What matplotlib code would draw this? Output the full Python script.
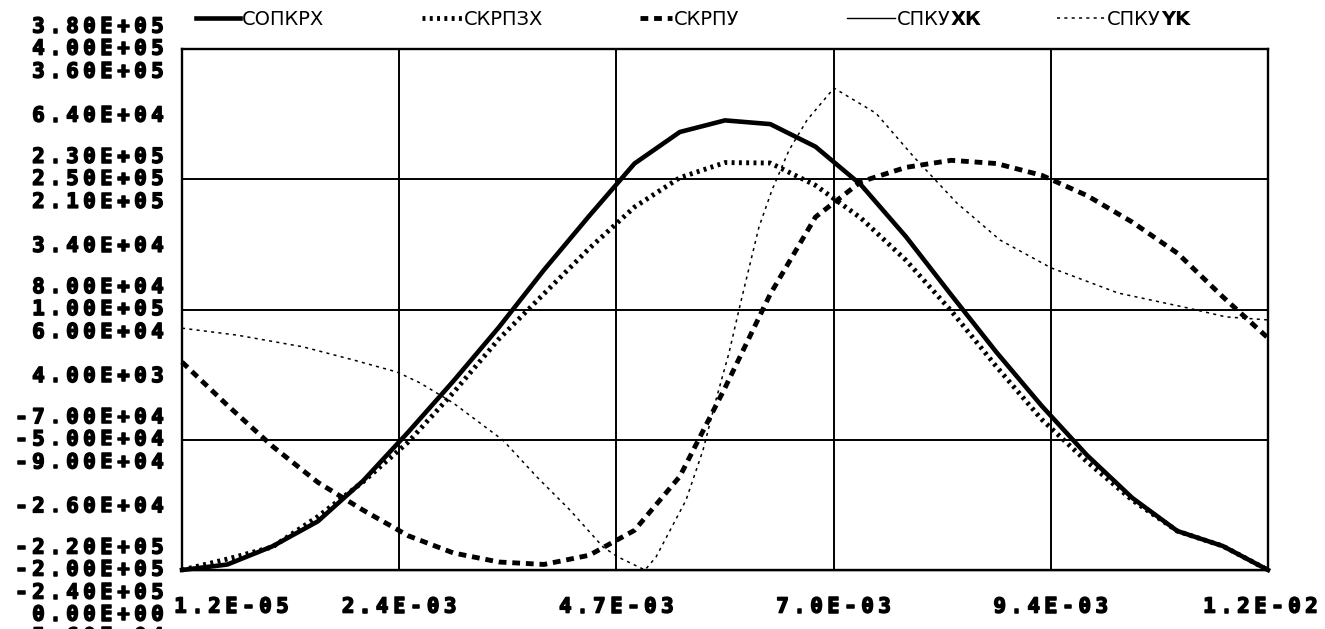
import matplotlib
matplotlib.use("Agg")
import matplotlib.pyplot as plt
import matplotlib.patheffects as pe
from matplotlib.lines import Line2D

# ---- data -------------------------------------------------------------
x_common = [0.000012, 0.0005, 0.000987, 0.001475, 0.001962, 0.00245, 0.002937,
            0.003425, 0.003912, 0.0044, 0.004887, 0.005375, 0.005862, 0.00635,
            0.006837, 0.007325, 0.007812, 0.0083, 0.008787, 0.009275, 0.009762,
            0.01025, 0.010737, 0.011225, 0.011712]

sopkrx = [-220000, -213700, -192700, -164000, -117400, -61100, -2300, 59400,
          125600, 187900, 248100, 284400, 297800, 293500, 267500, 223800, 163800,
          96700, 30700, -31100, -87800, -137000, -175200, -192400, -220000]

skrpzx = [-200000, -187400, -173500, -138500, -98500, -52600, 4500, 65900,
          118200, 170400, 218000, 251800, 269200, 268700, 243000, 205400, 156700,
          98300, 34100, -26700, -75300, -119500, -155200, -172400, -200000]

skrpu = [-500, -50200, -97500, -139000, -171000, -200600, -220400, -230800,
         -233600, -223000, -194300, -132300, -30200, 77800, 166500, 207100,
         223700, 231800, 228100, 214500, 191200, 160600, 124800, 74600, 27200]

spkuxk = [0, 0, 0, 0, 0, 0, 0, 0, 0, 0, 0, 0, 0, 0, 0, 0, 0, 0, 0, 0, 0, 0, 0, 0, 0]

x_spkuyk = [0.000012, 0.000605, 0.001316, 0.001854, 0.002328, 0.002576, 0.002932,
            0.00347, 0.003837, 0.004192, 0.004548, 0.004709, 0.005, 0.005119,
            0.005442, 0.005625, 0.005765, 0.005905, 0.006024, 0.006228, 0.006368,
            0.006552, 0.006745, 0.007036, 0.007489, 0.007898, 0.008361, 0.008825,
            0.009374, 0.010096, 0.010796, 0.011259, 0.011712]
spkuyk = [-300, -1900, -4600, -7600, -10400, -12900, -17500, -26100, -34600,
          -42200, -50700, -53000, -56000, -53000, -39900, -28400, -16800, -6000,
          5000, 23000, 31500, 40700, 47600, 55000, 49200, 39100, 28500, 20000,
          13600, 7800, 4600, 2300, 1600]

x_ticks = [0.000012, 0.002352, 0.004692, 0.007032, 0.009372, 0.011712]

# axis tick values of every curve (top to bottom)
sopkrx_ticks = [380000, 230000, 80000, -70000, -220000]
skrpzx_ticks = [400000, 250000, 100000, -50000, -200000]
skrpu_ticks = [360000, 210000, 60000, -90000, -240000]
spkuxk_ticks = [0]
spkuyk_ticks = [64000, 34000, 4000, -26000, -56000]

names = ["СОПКРХ", "СКРПЗХ", "СКРПУ", "СПКУ", "СПКУ"]
name_tails = ["", "", "", "ХК", "YK"]

# ---- figure -----------------------------------------------------------
W, H = 1325, 629
fig = plt.figure(figsize=(W / 100, H / 100), dpi=100)
fig.patch.set_facecolor("white")

ax = fig.add_axes([182 / W, 59 / H, 1086 / W, 521 / H])
ax.set_xlim(x_ticks[0], x_ticks[-1])
ax.set_ylim(sopkrx_ticks[-1], sopkrx_ticks[0])
ax.set_xticks(x_ticks)
ax.set_yticks(sopkrx_ticks)
ax.tick_params(length=0, labelbottom=False, labelleft=False)
ax.grid(True, color="black", lw=1.4)
for sp in ax.spines.values():
    sp.set_linewidth(1.7)

styles = [
    dict(color="black", lw=3.3, ls="-"),
    dict(color="black", lw=3.5, ls=(0, (0.6, 0.9)), dash_capstyle="butt"),
    dict(color="black", lw=3.5, ls=(0, (1.6, 1.2)), dash_capstyle="butt"),
    dict(color="black", lw=1.0, ls="-"),
    dict(color="black", lw=1.1, ls=(0, (2, 2.8)), dash_capstyle="butt"),
]

def twin(lo, hi):
    a = ax.twinx()
    a.set_ylim(lo, hi)
    a.axis("off")
    return a

ax1 = ax
ax2 = twin(skrpzx_ticks[-1], skrpzx_ticks[0])
ax3 = twin(skrpu_ticks[-1], skrpu_ticks[0])
ax4 = twin(0, 1)
ax5 = twin(spkuyk_ticks[-1], spkuyk_ticks[0])

ax1.plot(x_common, sopkrx, clip_on=False, **styles[0])
ax2.plot(x_common, skrpzx, clip_on=False, **styles[1])
ax3.plot(x_common, skrpu, clip_on=False, **styles[2])
ax4.plot(x_common, spkuxk, clip_on=False, **styles[3])
ax5.plot(x_spkuyk, spkuyk, clip_on=False, **styles[4])

# ---- old-style monospaced labels, one glyph per cell --------------------
FS = 15
PITCH = 17
CAP = 0.73 * FS * 100 / 72
thick = [pe.withStroke(linewidth=1.1, foreground="black")]

def mono(x_left, y_center, s):
    for i, ch in enumerate(s):
        fig.text((x_left + (i + 0.5) * PITCH) / W, (y_center - CAP / 2) / H, ch,
                 ha="center", va="baseline", family="DejaVu Sans Mono",
                 weight="bold", fontsize=FS, path_effects=thick)

# stacked y labels: each curve has its own row offset (pixels below grid line)
groups = [(ax1, sopkrx_ticks, -24), (ax2, skrpzx_ticks, -2), (ax3, skrpu_ticks, 21),
          (ax4, spkuxk_ticks, 43), (ax5, spkuyk_ticks, 65)]
for a, ticks, off in groups:
    for v in ticks:
        yd = a.transData.transform((x_ticks[0], v))[1]
        s = "%.2E" % v
        mono(166 - len(s) * PITCH, yd - off, s)

# x labels
for i, v in enumerate(x_ticks):
    s = "%.1E" % v
    xd = ax.transData.transform((v, 0))[0]
    if i == 0:
        left = 172
    elif i == len(x_ticks) - 1:
        left = 1320 - len(s) * PITCH
    else:
        left = xd - len(s) * PITCH / 2
    mono(left, H - 605, s)

# legend row
leg_y = H - 18
leg_pos = [(196, 240), (422, 462), (640, 672), (847, 895), (1057, 1105)]
for (x0, x1), st, nm, tail in zip(leg_pos, styles, names, name_tails):
    fig.add_artist(Line2D([x0 / W, x1 / W], [leg_y / H, leg_y / H],
                          transform=fig.transFigure, **st))
    t = fig.text((x1 + 2) / W, (leg_y - 7) / H, nm, ha="left", va="baseline",
                 family="DejaVu Sans", fontsize=14)
    if tail:
        fig.canvas.draw()
        bb = t.get_window_extent()
        fig.text(bb.x1 / W, (leg_y - 7) / H, tail, ha="left", va="baseline",
                 family="DejaVu Sans", weight="bold", fontsize=14)

fig.savefig("out.png", dpi=100, facecolor="white")
